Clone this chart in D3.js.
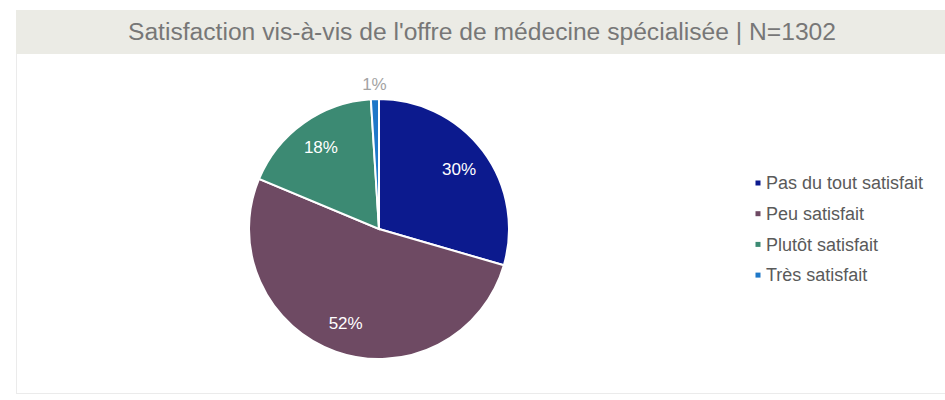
<!DOCTYPE html>
<html>
  <head>
    <meta charset="utf-8">
    <title>Satisfaction</title>
    <script src="https://d3js.org/d3.v7.min.js"></script>
    <style>
      body { margin: 0; background: #fff; }
      text { font-family: "Liberation Sans", Arial, sans-serif; }
    </style>
  </head>
  <body>
    <svg width="945" height="400"></svg>

  <script>
    // data
    var categories = ["Pas du tout satisfait", "Peu satisfait", "Plutôt satisfait", "Très satisfait"];
    var values = [29.5, 51.8, 17.7, 1.0];
    var labels = ["30%", "52%", "18%", "1%"];
    var colors = ["#0c1a8e", "#6e4a63", "#3c8a73", "#1f78c8"];

    var svg = d3.select("svg");

    // card frame
    svg.append("rect")
       .attr("x", 16.5).attr("y", 10.5)
       .attr("width", 940).attr("height", 383)
       .attr("fill", "#fff")
       .attr("stroke", "#ebebeb");

    // title bar
    svg.append("rect")
       .attr("x", 16).attr("y", 10)
       .attr("width", 935).attr("height", 44)
       .attr("fill", "#ebebe5");

    svg.append("text")
       .attr("x", 482)
       .attr("y", 40)
       .attr("text-anchor", "middle")
       .attr("font-size", "23px")
       .attr("textLength", 708)
       .attr("lengthAdjust", "spacingAndGlyphs")
       .attr("fill", "#777")
       .text("Satisfaction vis-à-vis de l'offre de médecine spécialisée | N=1302");

    // pie
    var cx = 379, cy = 229, r = 130;
    var g = svg.append("g").attr("transform", "translate(" + cx + "," + cy + ")");

    var pie = d3.pie().sort(null).value(function(d) { return d; });
    var arcs = pie(values);
    var arc = d3.arc().innerRadius(0).outerRadius(r);
    var labelArc = d3.arc().innerRadius(r * 0.77).outerRadius(r * 0.77);
    var outerArc = d3.arc().innerRadius(r + 15).outerRadius(r + 15);

    g.selectAll("path")
     .data(arcs)
     .enter().append("path")
     .attr("d", arc)
     .attr("fill", function(d, i) { return colors[i]; })
     .attr("stroke", "#fff")
     .attr("stroke-width", 2);

    g.selectAll(".lbl")
     .data(arcs)
     .enter().append("text")
     .attr("class", "lbl")
     .attr("transform", function(d, i) {
        var c = (values[i] < 3 ? outerArc : labelArc).centroid(d);
        return "translate(" + c + ")";
     })
     .attr("dy", "0.35em")
     .attr("text-anchor", "middle")
     .attr("font-size", "17px")
     .attr("fill", function(d, i) { return values[i] < 3 ? "#a3a3a3" : "#fff"; })
     .text(function(d, i) { return labels[i]; });

    // legend
    var leg = svg.append("g").attr("transform", "translate(758,183)");
    var row = leg.selectAll("g")
       .data(categories)
       .enter().append("g")
       .attr("transform", function(d, i) { return "translate(0," + (i * 30.7) + ")"; });

    row.append("rect")
       .attr("x", -2.5).attr("y", -2.5)
       .attr("width", 5).attr("height", 5)
       .attr("fill", function(d, i) { return colors[i]; });

    row.append("text")
       .attr("x", 8)
       .attr("dy", "0.35em")
       .attr("font-size", "18px")
       .attr("fill", "#5a5a5a")
       .text(function(d) { return d; });
  </script>
  </body>
</html>
